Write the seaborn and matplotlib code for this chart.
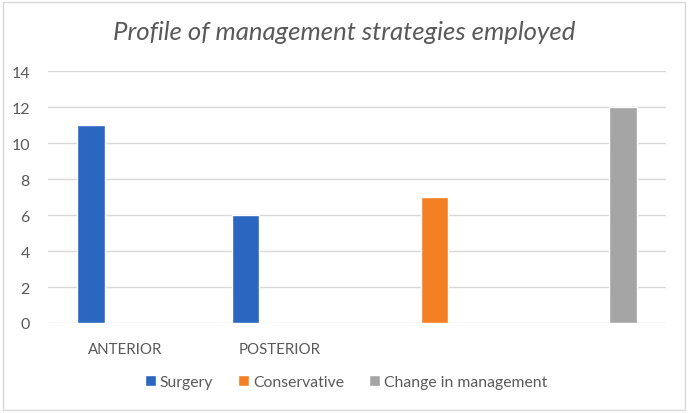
import pandas as pd
import numpy as np
import seaborn as sns
import matplotlib.pyplot as plt
from matplotlib.patches import Rectangle

# data
categories = ["ANTERIOR", "POSTERIOR", "cat3", "cat4"]
tick_labels = ["ANTERIOR", "POSTERIOR", "", ""]
series = ["Surgery", "Conservative", "Change in management"]
surgery = [11, 6, 0, 0]
conservative = [0, 0, 7, 0]
change_mgmt = [0, 0, 0, 12]
colors = ["#2b67c1", "#f57f24", "#a5a5a5"]

df = pd.DataFrame({
    "category": categories * 3,
    "series": [series[0]] * 4 + [series[1]] * 4 + [series[2]] * 4,
    "value": surgery + conservative + change_mgmt,
})

sns.set_style("white")
plt.rcParams["font.family"] = ["Lato", "DejaVu Sans"]
text_col = "#595959"

fig = plt.figure(figsize=(6.88, 4.14), dpi=100)
ax = fig.add_axes([48 / 688, 90 / 414, 618 / 688, 252 / 414])

sns.barplot(data=df, x="category", y="value", hue="series", order=categories,
            hue_order=series, palette=colors, width=0.667, gap=0.2,
            saturation=1, ax=ax, legend=True)

ax.set_ylim(0, 14)
ax.set_yticks(np.arange(0, 15, 2))
ax.set_xlim(-0.5, 3.5)
ax.set_xticks(range(len(categories)))
ax.set_xticklabels(tick_labels)
ax.set_xlabel("")
ax.set_ylabel("")
ax.grid(axis="y", color="#d9d9d9", linewidth=1)
ax.set_axisbelow(True)
for s in ax.spines.values():
    s.set_visible(False)
ax.tick_params(axis="y", length=0, pad=13, labelsize=11.5, labelcolor=text_col)
ax.tick_params(axis="x", length=0, pad=14, labelsize=10.8, labelcolor=text_col)

fig.text(0.5, 1 - 33 / 414, "Profile of management strategies employed",
         ha="center", va="center", fontsize=18.5, style="italic", color=text_col)

handles, labels = ax.get_legend_handles_labels()
ax.legend_.remove()
fig.legend(handles, labels, loc="center", bbox_to_anchor=(0.503, 1 - 383 / 414),
           ncol=3, frameon=False, fontsize=11.3, labelcolor=text_col,
           handlelength=0.7, handleheight=0.7, handletextpad=0.25, columnspacing=1.6)

fig.patches.append(Rectangle((3 / 688, 3 / 414), 682 / 688, 408 / 414,
                             transform=fig.transFigure, fill=False,
                             edgecolor="#d9d9d9", linewidth=1))

fig.savefig("out.png", dpi=100)
